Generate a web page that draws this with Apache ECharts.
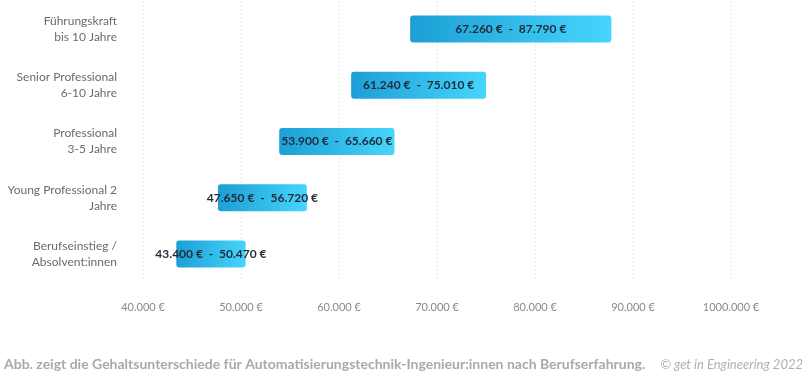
<!DOCTYPE html>
<html>
<head>
  <meta charset="utf-8">
  <title>Gehalt Automatisierungstechnik</title>
  <script src="https://cdn.jsdelivr.net/npm/echarts@6/dist/echarts.min.js"></script>
  <style>
    html, body { margin: 0; padding: 0; background: #fff; }
    #chart { width: 806px; height: 375px; }
  </style>
</head>
<body>
<div id="chart"></div>
<script>
  // Kategorien von unten nach oben
  var categories = ['Berufseinstieg /\nAbsolvent:innen', 'Young Professional 2\nJahre', 'Professional\n3-5 Jahre', 'Senior Professional\n6-10 Jahre', 'Führungskraft\nbis 10 Jahre'];
  var minValues = [43400, 47650, 53900, 61240, 67260];
  var maxValues = [50470, 56720, 65660, 75010, 87790];
  var tickLabels = ['40.000 €', '50.000 €', '60.000 €', '70.000 €', '80.000 €', '90.000 €', '1000.000 €'];

  function fmt(v) {
    return String(v).replace(/\B(?=(\d{3})+(?!\d))/g, '.') + ' €';
  }

  var rangeValues = [];
  for (var i = 0; i < minValues.length; i++) {
    rangeValues.push(maxValues[i] - minValues[i]);
  }

  var chart = echarts.init(document.getElementById('chart'));
  chart.setOption({
    animation: false,
    textStyle: { fontFamily: 'Lato' },
    grid: { left: 143, right: 75, top: 1, height: 281 },
    xAxis: {
      type: 'value',
      min: 40000,
      max: 100000,
      interval: 10000,
      axisLine: { show: false },
      axisTick: { show: false },
      axisLabel: {
        margin: 20,
        color: '#8a8a8a',
        fontSize: 11,
        formatter: function (v) { return tickLabels[(v - 40000) / 10000]; }
      },
      splitLine: { lineStyle: { color: '#e6e6e6', type: [2, 2] } }
    },
    yAxis: {
      type: 'category',
      data: categories,
      axisLine: { show: false },
      axisTick: { show: false },
      axisLabel: { margin: 26, color: '#6b6b6b', fontSize: 12, lineHeight: 16, align: 'right' }
    },
    series: [
      {
        type: 'bar',
        stack: 'r',
        data: minValues,
        itemStyle: { color: 'transparent' },
        silent: true
      },
      {
        type: 'bar',
        stack: 'r',
        barWidth: 27,
        data: rangeValues,
        itemStyle: {
          borderRadius: 3,
          color: new echarts.graphic.LinearGradient(0, 0, 1, 0, [
            { offset: 0, color: '#1c9fd5' },
            { offset: 1, color: '#46d5fc' }
          ])
        },
        label: {
          show: true,
          position: 'inside',
          color: '#1f2b3a',
          fontWeight: 'bold',
          fontSize: 12,
          formatter: function (p) {
            return fmt(minValues[p.dataIndex]) + '  -  ' + fmt(maxValues[p.dataIndex]);
          }
        }
      }
    ],
    graphic: [
      {
        type: 'text',
        left: 4,
        top: 357,
        style: {
          text: 'Abb. zeigt die Gehaltsunterschiede für Automatisierungstechnik-Ingenieur:innen nach Berufserfahrung.',
          fill: '#a9a9a9',
          font: 'bold 14px Lato'
        }
      },
      {
        type: 'text',
        right: 3,
        top: 358,
        style: {
          text: '© get in Engineering 2022',
          fill: '#b0b0b0',
          font: 'italic 13px Lato'
        }
      }
    ]
  });
</script>
</body>
</html>
